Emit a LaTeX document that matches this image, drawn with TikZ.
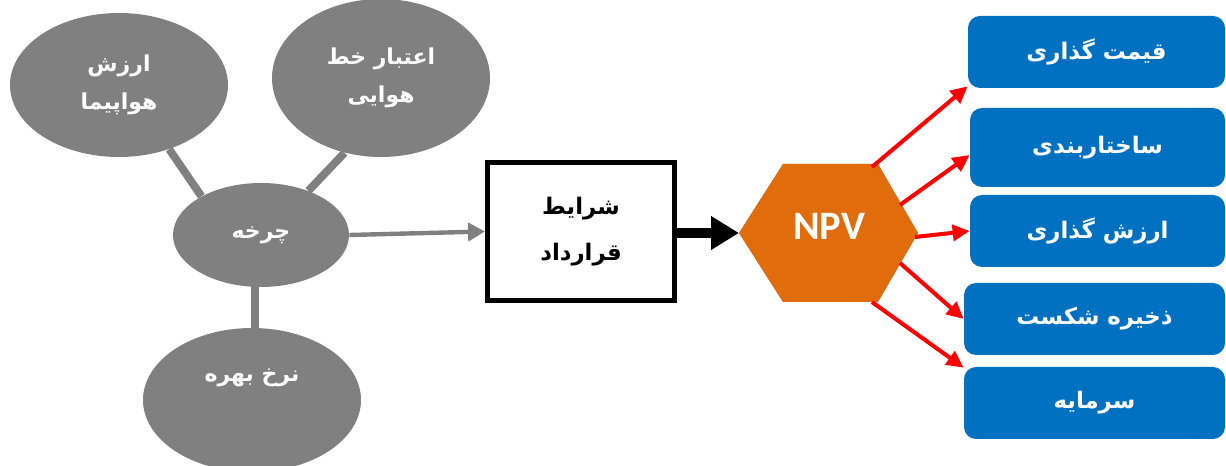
\documentclass[tikz,border=0pt]{standalone}
\usepackage{fontspec}
\newfontfamily\arabicfont[Script=Arabic]{DejaVu Sans}
\newfontfamily\npvfont{Carlito}
\TeXXeTstate=1
\usetikzlibrary{arrows.meta,shapes.geometric}
\pgfdeclarelayer{bg}
\pgfsetlayers{bg,main}
\definecolor{ovalgray}{RGB}{128,128,128}
\definecolor{npvorange}{RGB}{224,108,11}
\definecolor{outblue}{RGB}{0,112,192}
\definecolor{shadowgray}{RGB}{176,160,160}
\newcommand{\fa}[1]{\beginR #1\endR}

\begin{document}
\begin{tikzpicture}[
        oval/.style={ellipse, fill=ovalgray, text=white, align=center, inner sep=0pt,
                font=\arabicfont\bfseries\fontsize{12.5}{21.5}\selectfont},
        outbox/.style={rectangle, rounded corners=0.24cm, fill=outblue, text=white,
                minimum width=5.14cm, minimum height=1.44cm,
                font=\arabicfont\bfseries\fontsize{13}{16}\selectfont},
        link/.style={ovalgray, line width=4.5pt},
        grayarrow/.style={ovalgray, line width=2.5pt, -{Triangle[length=0.34cm, width=0.36cm]}},
        blackarrow/.style={black, line width=6.2pt, -{Triangle[length=0.56cm, width=0.64cm]}},
        redarrow/.style={red, line width=2.3pt, -{Triangle[length=0.34cm, width=0.32cm]}}
]
        \useasboundingbox (0,0) rectangle (24.520000cm, 9.320000cm);
        \node (v0) [oval, minimum width=4.36cm, minimum height=2.88cm] at (2.380000cm, 7.620000cm) {\fa{ارزش}\\\fa{هواپیما}};
        \node (v1) [oval, minimum width=4.36cm, minimum height=3.16cm] at (7.620000cm, 7.760000cm) {\fa{اعتبار خط}\\\fa{هوایی}};
        \node (v2) [oval, minimum width=3.52cm, minimum height=2.08cm] at (5.220000cm, 4.620000cm) {\fa{چرخه}};
        \node (v3) [oval, minimum width=4.36cm, minimum height=2.88cm] at (5.040000cm, 1.320000cm) {\fa{نرخ بهره}\\\strut};
        \node (v4) [draw, line width=2.8pt, minimum width=3.74cm, minimum height=2.76cm, align=center,
                font=\arabicfont\bfseries\fontsize{13}{26}\selectfont] at (11.620000cm, 4.690000cm) {\fa{شرایط}\\\fa{قرارداد}};
        \coordinate (h0) at (14.780000cm, 4.660000cm);
        \coordinate (h1) at (15.660000cm, 6.040000cm);
        \coordinate (h2) at (17.560000cm, 6.040000cm);
        \coordinate (h3) at (18.360000cm, 4.660000cm);
        \coordinate (h4) at (17.560000cm, 3.280000cm);
        \coordinate (h5) at (15.660000cm, 3.280000cm);
        \fill [shadowgray, xshift=0.05cm, yshift=-0.05cm] (h0) -- (h1) -- (h2) -- (h3) -- (h4) -- (h5) -- cycle;
        \fill [npvorange] (h0) -- (h1) -- (h2) -- (h3) -- (h4) -- (h5) -- cycle;
        \node (v5) [text=white, font=\npvfont\bfseries\fontsize{23}{23}\selectfont] at (16.580000cm, 4.800000cm) {NPV};
        \node (v6) [outbox] at (21.930000cm, 8.280000cm) {\fa{قیمت گذاری}};
        \node (v7) [outbox, minimum width=5.10cm, minimum height=1.58cm] at (21.950000cm, 6.370000cm) {\fa{ساختاربندی}};
        \node (v8) [outbox, minimum width=5.10cm] at (21.950000cm, 4.700000cm) {\fa{ارزش گذاری}};
        \node (v9) [outbox, minimum width=5.22cm] at (21.890000cm, 2.940000cm) {\fa{ذخیره شکست}};
        \node (v10) [outbox, minimum width=5.22cm] at (21.890000cm, 1.260000cm) {\fa{سرمایه}};
        \coordinate (s1) at (17.440000cm, 5.980000cm);
        \coordinate (s2) at (18.000000cm, 5.220000cm);
        \coordinate (s3) at (18.300000cm, 4.580000cm);
        \coordinate (s4) at (18.000000cm, 4.060000cm);
        \coordinate (s5) at (17.440000cm, 3.280000cm);
        \begin{pgfonlayer}{bg}
                \draw (v0.-52) edge [link] (v2.147);
                \draw (v1.244) edge [link] (v2.43);
                \draw ([xshift=-0.12cm]v2.center) edge [link] ([xshift=-0.12cm]v2.center |- v3.center);
        \end{pgfonlayer}
        \draw (v2.east) edge [grayarrow] (v4.west);
        \draw (v4.east |- h0) edge [blackarrow] (h0);
        \draw (s1) edge [redarrow] ([yshift=0.04cm]v6.south west);
        \draw (s2) edge [redarrow] ([yshift=-0.15cm]v7.west);
        \draw (s3) edge [redarrow] (v8.west);
        \draw (s4) edge [redarrow] (v9.west);
        \draw (s5) edge [redarrow] ([yshift=-0.02cm]v10.north west);
\end{tikzpicture}
\end{document}
